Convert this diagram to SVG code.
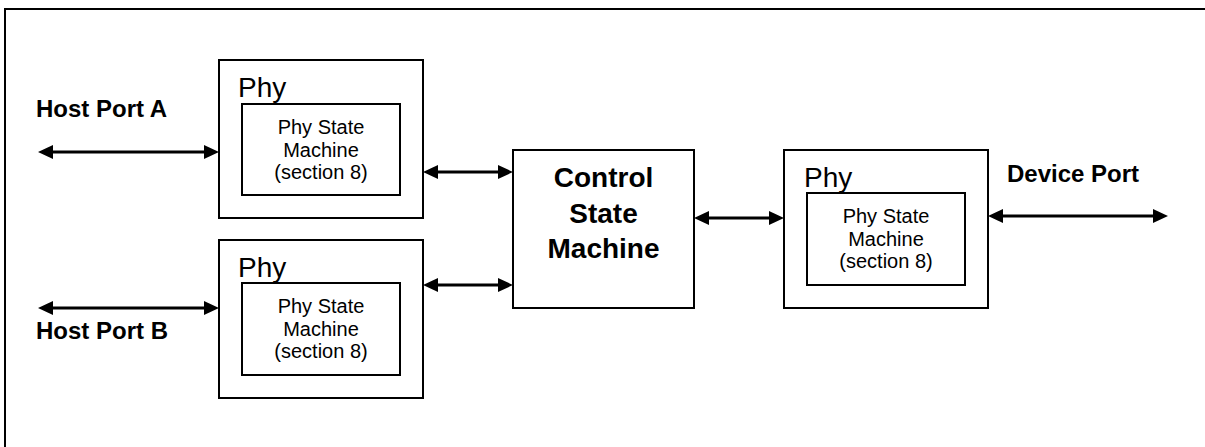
<svg xmlns="http://www.w3.org/2000/svg" width="1205" height="447" viewBox="0 0 1205 447">
<style>
.box{fill:#fff;stroke:#000;stroke-width:2}
.frame{fill:none;stroke:#000;stroke-width:2}
.conn{stroke:#000;stroke-width:3;fill:none}
.lbl{font-family:"Liberation Sans",Arial,sans-serif;font-weight:bold;font-size:24px;fill:#000}
.phy{font-family:"Liberation Sans",Arial,sans-serif;font-size:28px;fill:#000}
.sm{font-family:"Liberation Sans",Arial,sans-serif;font-size:20px;fill:#000;text-anchor:middle}
.ctl{font-family:"Liberation Sans",Arial,sans-serif;font-weight:bold;font-size:28px;fill:#000;text-anchor:middle}
</style>
<defs>
<marker id="ah" viewBox="0 0 15 14" markerWidth="15" markerHeight="14" refX="5" refY="7" orient="auto-start-reverse" markerUnits="userSpaceOnUse">
<path d="M0,0 L15,7 L0,14 z" fill="#000"/>
</marker>
</defs>
<rect class="frame" x="5" y="9" width="1220" height="460"/>
<text class="lbl" x="36" y="117">Host Port A</text>
<text class="lbl" x="36" y="339">Host Port B</text>
<text class="lbl" x="1007" y="182">Device Port</text>
<g id="phyA">
<rect class="box" x="219" y="60" width="204" height="158"/>
<text class="phy" x="238" y="97">Phy</text>
<rect class="box" x="242" y="104" width="158" height="91"/>
<text class="sm"><tspan x="321" y="134">Phy State</tspan><tspan x="321" y="157">Machine</tspan><tspan x="321" y="179">(section 8)</tspan></text>
</g>
<g id="phyB">
<rect class="box" x="219" y="240" width="204" height="158"/>
<text class="phy" x="238" y="277">Phy</text>
<rect class="box" x="242" y="283" width="158" height="92"/>
<text class="sm"><tspan x="321" y="313">Phy State</tspan><tspan x="321" y="336">Machine</tspan><tspan x="321" y="358">(section 8)</tspan></text>
</g>
<g id="control">
<rect class="box" x="513" y="150" width="181" height="158"/>
<text class="ctl"><tspan x="603.5" y="187">Control</tspan><tspan x="603.5" y="222.5">State</tspan><tspan x="603.5" y="258">Machine</tspan></text>
</g>
<g id="phyD">
<rect class="box" x="784" y="150" width="204" height="158"/>
<text class="phy" x="804" y="187">Phy</text>
<rect class="box" x="807" y="193" width="158" height="92"/>
<text class="sm"><tspan x="886" y="223">Phy State</tspan><tspan x="886" y="246">Machine</tspan><tspan x="886" y="268">(section 8)</tspan></text>
</g>
<g id="connectors">
<line class="conn" x1="48" y1="152" x2="209" y2="152" marker-start="url(#ah)" marker-end="url(#ah)"/>
<line class="conn" x1="48" y1="308" x2="209" y2="308" marker-start="url(#ah)" marker-end="url(#ah)"/>
<line class="conn" x1="433" y1="172" x2="503" y2="172" marker-start="url(#ah)" marker-end="url(#ah)"/>
<line class="conn" x1="433" y1="285" x2="503" y2="285" marker-start="url(#ah)" marker-end="url(#ah)"/>
<line class="conn" x1="704" y1="218" x2="774" y2="218" marker-start="url(#ah)" marker-end="url(#ah)"/>
<line class="conn" x1="998" y1="216" x2="1158" y2="216" marker-start="url(#ah)" marker-end="url(#ah)"/>
</g>
</svg>
